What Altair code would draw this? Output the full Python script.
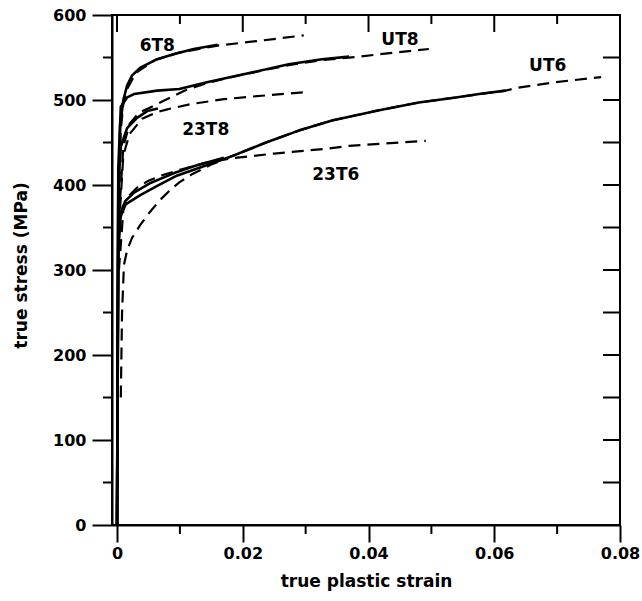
import altair as alt
import pandas as pd

# ---------------- data ----------------
# experimental curves (solid)
t6t8_exp_x = [0, 0.0002, 0.0005, 0.0010, 0.0016, 0.0024, 0.0037, 0.0064, 0.0091, 0.0122, 0.0160]
t6t8_exp_y = [0, 380, 470, 500, 517, 529, 538, 548, 554, 560, 565]

ut8_exp_x = [0, 0.0002, 0.0006, 0.0016, 0.0027, 0.0064, 0.0099, 0.0143, 0.0194, 0.0273, 0.0326, 0.0369]
ut8_exp_y = [0, 420, 492, 503, 507, 511, 513, 521, 529, 542, 548, 551]

t23t8_exp_x = [0, 0.0002, 0.0006, 0.0016, 0.0032, 0.0048, 0.0065]
t23t8_exp_y = [0, 400, 445, 467, 479, 487, 490]

t23t6_exp_x = [0, 0.0002, 0.0006, 0.0013, 0.0027, 0.0052, 0.0091, 0.0122, 0.0170]
t23t6_exp_y = [0, 330, 368, 381, 391, 402, 414, 422, 432]

ut6_exp_x = [0, 0.0002, 0.0005, 0.0011, 0.0037, 0.0064, 0.0095, 0.0130, 0.0183, 0.0237,
             0.0289, 0.0342, 0.0417, 0.0480, 0.0539, 0.0576, 0.0618]
ut6_exp_y = [0, 320, 360, 376, 388, 399, 411, 420, 434, 450, 464, 476, 488, 497, 503, 507, 511]

# model curves (dashed)
t6t8_mod_x = [0.0003, 0.0006, 0.0010, 0.0016, 0.0030, 0.0060, 0.0100, 0.0160, 0.0230, 0.0297]
t6t8_mod_y = [380, 465, 495, 513, 532, 547, 556, 564, 570, 576]

ut8_mod_x = [0.0003, 0.0010, 0.0020, 0.0035, 0.0052, 0.0091, 0.0107, 0.0143, 0.0194, 0.0273,
             0.0326, 0.0385, 0.0444, 0.0496]
ut8_mod_y = [360, 445, 472, 485, 491, 505, 511, 520, 529, 541, 547, 551, 556, 560]

t23t8_mod_x = [0.0003, 0.0010, 0.0020, 0.0040, 0.0065, 0.0080, 0.0116, 0.0170, 0.0230, 0.0297]
t23t8_mod_y = [350, 435, 460, 478, 486, 489, 495, 501, 505, 509]

t23t6_mod_x = [0.0003, 0.0010, 0.0020, 0.0032, 0.0050, 0.0070, 0.0100, 0.0140, 0.0178, 0.0250,
               0.0337, 0.0369, 0.0491]
t23t6_mod_y = [300, 370, 388, 397, 405, 411, 418, 426, 431, 437, 443, 446, 452]

ut6_mod_x = [0.0006, 0.0008, 0.0011, 0.0016, 0.0024, 0.0037, 0.0052, 0.0068, 0.0083, 0.0099,
             0.0120, 0.0150, 0.0183, 0.0237, 0.0289, 0.0342, 0.0417, 0.0480, 0.0539, 0.0576,
             0.0618, 0.0634, 0.0698, 0.0770]
ut6_mod_y = [150, 250, 306, 323, 338, 353, 368, 382, 393, 403, 413, 424, 434, 450, 464, 476,
             488, 497, 503, 507, 511, 514, 521, 527]

# curve labels
label_text = ["6T8", "UT8", "UT6", "23T8", "23T6"]
label_x = [0.0064, 0.0450, 0.0685, 0.0141, 0.0348]
label_y = [564, 571, 540, 465, 412]

# axis ticks
x_major = [0, 0.02, 0.04, 0.06, 0.08]
x_minor = [0.01, 0.03, 0.05, 0.07]
y_major = [0, 100, 200, 300, 400, 500, 600]
y_minor = [50, 150, 250, 350, 450, 550]

# ---------------- layout / style ----------------
W, H = 508, 510
FONT = "DejaVu Sans"
XDOM = [-0.0008, 0.08]
YDOM = [0, 600]
PX_PER_X = W / (XDOM[1] - XDOM[0])   # pixels per unit strain
PX_PER_Y = H / (YDOM[1] - YDOM[0])   # pixels per MPa
MAJOR_LEN, MINOR_LEN = 17, 9          # tick lengths in pixels
CURVE_W, TICK_W = 2.6, 2.0

# ---------------- build tables ----------------
rows = []
def add(name, kind, xs, ys, width):
    for i, (a, b) in enumerate(zip(xs, ys)):
        rows.append(dict(curve=name, kind=kind, strain=a, stress=b, order=i, sw=width))

add("6T8", "exp", t6t8_exp_x, t6t8_exp_y, CURVE_W)
add("UT8", "exp", ut8_exp_x, ut8_exp_y, CURVE_W)
add("23T8", "exp", t23t8_exp_x, t23t8_exp_y, CURVE_W)
add("23T6", "exp", t23t6_exp_x, t23t6_exp_y, CURVE_W)
add("UT6", "exp", ut6_exp_x, ut6_exp_y, CURVE_W)
add("6T8", "mod", t6t8_mod_x, t6t8_mod_y, 2.2)
add("UT8", "mod", ut8_mod_x, ut8_mod_y, 2.2)
add("23T8", "mod", t23t8_mod_x, t23t8_mod_y, 2.2)
add("23T6", "mod", t23t6_mod_x, t23t6_mod_y, 2.2)
add("UT6", "mod", ut6_mod_x, ut6_mod_y, 2.2)

# extra frame ticks (inward on top and right, minor outward on bottom and left),
# drawn in the solid-line layer as short two-point segments
for v in x_major:
    add(f"tM{v}", "exp", [v, v], [YDOM[1], YDOM[1] - MAJOR_LEN / PX_PER_Y], TICK_W)
for v in x_minor:
    add(f"tm{v}", "exp", [v, v], [YDOM[1], YDOM[1] - MINOR_LEN / PX_PER_Y], TICK_W)
    add(f"bm{v}", "exp", [v, v], [YDOM[0], YDOM[0] - MINOR_LEN / PX_PER_Y], TICK_W)
for v in y_major[1:-1] + y_minor:
    add(f"r{v}", "exp", [XDOM[1] - MAJOR_LEN / PX_PER_X, XDOM[1]], [v, v], TICK_W)
for v in y_minor:
    add(f"lm{v}", "exp", [XDOM[0] - MINOR_LEN / PX_PER_X, XDOM[0]], [v, v], TICK_W)
df = pd.DataFrame(rows)

labels_df = pd.DataFrame(dict(label=label_text, strain=label_x, stress=label_y))

xscale = alt.Scale(domain=XDOM, nice=False, zero=False)
yscale = alt.Scale(domain=YDOM, nice=False)

xaxis = alt.Axis(values=x_major, format=".2~f", grid=False, tickSize=MAJOR_LEN, tickWidth=2,
                 tickColor="black", domainColor="black", domainWidth=2,
                 labelFont=FONT, labelFontSize=16, labelFontWeight="bold", labelColor="black",
                 labelPadding=3, labelFlush=False, labelOverlap=False,
                 title="true plastic strain", titleFont=FONT, titleFontSize=17,
                 titleFontWeight="bold", titleColor="black", titleY=56, titleBaseline="middle")
yaxis = alt.Axis(values=y_major, grid=False, tickSize=20, tickWidth=2,
                 tickColor="black", domainColor="black", domainWidth=2,
                 labelFont=FONT, labelFontSize=16, labelFontWeight="bold", labelColor="black",
                 labelPadding=6, labelFlush=False, labelOverlap=False,
                 title="true stress (MPa)", titleFont=FONT, titleFontSize=17,
                 titleFontWeight="bold", titleColor="black", titleX=-91, titleY=250,
                 titleBaseline="middle")

X = alt.X("strain:Q", scale=xscale, axis=xaxis)
Y = alt.Y("stress:Q", scale=yscale, axis=yaxis)

solid = alt.Chart(df).transform_filter(alt.datum.kind == "exp").mark_line(
    color="black", strokeJoin="round", strokeCap="butt"
).encode(x=X, y=Y, detail="curve:N", order="order:Q",
         strokeWidth=alt.StrokeWidth("sw:Q", scale=None))

dashed = alt.Chart(df).transform_filter(alt.datum.kind == "mod").mark_line(
    color="black", strokeWidth=2.2, strokeDash=[12, 7]
).encode(x=X, y=Y, detail="curve:N", order="order:Q")

texts = alt.Chart(labels_df).mark_text(
    font=FONT, fontSize=17, fontWeight="bold", color="black", align="center", baseline="middle"
).encode(x=X, y=Y, text="label:N")

chart = alt.layer(solid, dashed, texts).properties(
    width=W, height=H,
    padding={"left": 112, "top": 15, "right": 22, "bottom": 76},
    autosize=alt.AutoSizeParams(type="none"),
    background="white",
).configure_view(stroke="black", strokeWidth=2)

chart.save("out.html", embed_options={"renderer": "svg", "actions": False})
